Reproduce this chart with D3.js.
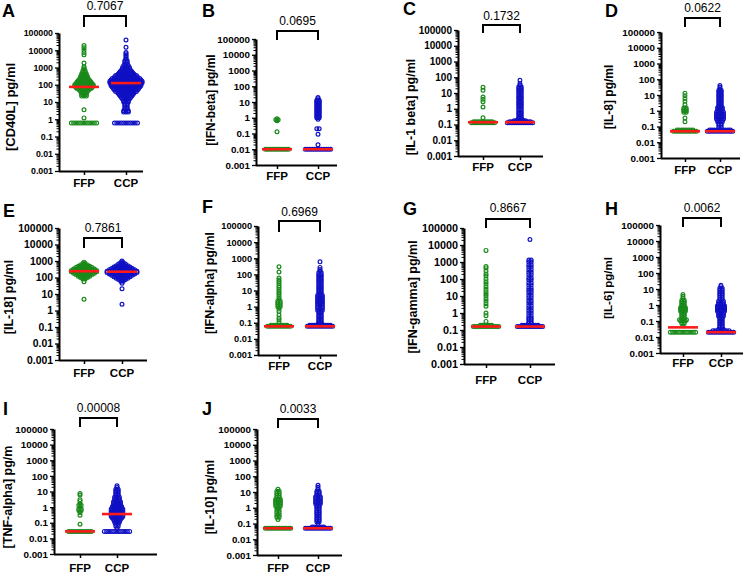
<!DOCTYPE html>
<html><head><meta charset="utf-8">
<script src="https://cdn.jsdelivr.net/npm/d3@7"></script>
<style>
body{margin:0;background:#fff}
svg{display:block}
text{font-family:"Liberation Sans",Arial,sans-serif}
</style>
</head><body>
<svg id="chart" width="747" height="573"></svg>
<script>
const categories = ["FFP", "CCP"];
const panelLetters = ["A","B","C","D","E","F","G","H","I","J"];
const yTitles = ["[CD40L] pg/ml","[IFN-beta] pg/ml","[IL-1 beta] pg/ml","[IL-8] pg/ml","[IL-18] pg/ml",
  "[IFN-alpha] pg/ml","[IFN-gamma] pg/ml","[IL-6] pg/ml","[TNF-alpha] pg/m","[IL-10] pg/ml"];
const pValues = ["0.7067","0.0695","0.1732","0.0622","0.7861","0.6969","0.8667","0.0062","0.00008","0.0033"];
const tickValues = [100000,10000,1000,100,10,1,0.1,0.01,0.001];
const tickLabels = ["100000","10000","1000","100","10","1","0.1","0.01","0.001"];
const mediansFFP = [75, 0.01, 0.14, 0.05, 240, 0.06, 0.16, 0.04, 0.028, 0.05];
const mediansCCP = [125, 0.01, 0.14, 0.05, 225, 0.06, 0.16, 0.02, 0.36, 0.05];

// [value, number of samples at that value]
const cd40lFFP = [[0.6,12],[1.2,1],[3.5,1],[22,3],[27,3],[33,3],[40,4],[50,5],[60,7],[70,8],[85,9],[100,9],[120,8],[145,7],[175,6],[210,5],[250,4],[300,4],[360,3],[430,3],[520,2],[650,2],[800,1],[950,1],[1100,1],[1800,1],[5500,1],[7500,1],[10000,1],[14000,1],[19000,1]];
const cd40lCCP = [[0.6,11],[2.6,3],[3.1,3],[4,2],[5,2],[6.5,2],[8,2],[10,3],[12,3],[15,4],[18,5],[22,6],[27,7],[33,8],[40,10],[50,11],[60,12],[75,13],[90,14],[110,14],[130,15],[160,15],[190,14],[230,13],[280,11],[340,10],[400,8],[480,7],[580,6],[700,5],[850,4],[1000,4],[1300,3],[1600,2],[2000,2],[2500,2],[3000,1],[3600,1],[4300,1],[5200,1],[6300,1],[7500,1],[15000,1],[39000,1]];
const ifnbFFP = [[0.01,11],[0.13,1],[0.65,1],[0.75,2],[0.85,1]];
const ifnbCCP = [[0.01,12],[0.019,1],[0.09,1],[0.2,2],[0.8,1],[1,2],[1.2,2],[1.5,2],[1.8,2],[2.2,2],[2.7,2],[3.3,2],[4,2],[5,2],[6,2],[7.5,2],[9,2],[11,2],[13,2],[16,1],[19,1]];
const il1bFFP = [[0.13,11],[0.15,9],[0.27,1],[1.3,1],[2.8,1],[4,1],[5.5,1],[15,1],[23,1]];
const il1bCCP = [[0.13,12],[0.15,10],[0.17,6],[0.2,3],[0.25,2],[0.3,2],[0.4,2],[0.5,2],[0.6,2],[0.8,2],[1,2],[1.3,2],[1.6,2],[2,2],[2.5,2],[3,2],[4,2],[5,2],[6,2],[8,2],[10,2],[13,2],[16,2],[20,2],[25,2],[32,1],[40,1],[65,1]];
const il8FFP = [[0.05,11],[0.06,8],[0.2,1],[0.35,1],[0.8,2],[1,2],[1.2,2],[1.5,2],[2.5,1],[4,1],[6,1],[9,1],[13,1]];
const il8CCP = [[0.05,12],[0.06,10],[0.09,2],[0.12,2],[0.15,2],[0.2,3],[0.25,3],[0.3,4],[0.4,4],[0.5,4],[0.6,4],[0.8,4],[1,3],[1.3,3],[1.6,3],[2,2],[2.5,2],[3.2,2],[4,2],[5,2],[6.5,2],[8,2],[10,2],[13,2],[16,2],[20,2],[25,1],[32,1],[40,1]];
const il18FFP = [[4.8,1],[55,1],[80,2],[100,4],[120,6],[150,8],[180,10],[220,12],[270,12],[330,10],[400,8],[480,6],[580,4],[700,2],[850,1]];
const il18CCP = [[2.4,1],[21,1],[45,1],[60,2],[75,4],[90,6],[110,8],[135,10],[165,12],[200,14],[240,14],[290,12],[350,10],[430,8],[520,6],[650,4],[800,2],[1000,1]];
const ifnaFFP = [[0.06,11],[0.07,8],[0.1,1],[0.15,1],[0.2,1],[0.3,1],[0.5,1],[0.7,1],[1,2],[1.3,2],[1.7,2],[2.2,2],[3,1],[4,1],[5.5,1],[7,1],[9,1],[12,1],[16,1],[20,1],[27,1],[35,1],[45,1],[60,1],[140,1],[300,1]];
const ifnaCCP = [[0.06,12],[0.07,10],[0.08,3],[0.1,2],[0.13,2],[0.16,2],[0.2,2],[0.25,2],[0.3,2],[0.4,2],[0.5,2],[0.6,3],[0.8,3],[1,3],[1.3,3],[1.6,3],[2,3],[2.5,3],[3.2,3],[4,3],[5,3],[6.3,2],[8,2],[10,2],[13,2],[16,2],[20,2],[25,2],[32,2],[40,2],[50,2],[63,2],[80,2],[100,2],[130,2],[160,1],[200,1],[270,1],[600,1]];
const ifngFFP = [[0.16,12],[0.19,6],[0.32,1],[0.7,1],[1,1],[2.5,1],[3.5,1],[5,1],[7,1],[10,1],[13,1],[18,1],[25,1],[35,1],[50,1],[70,1],[100,1],[150,1],[200,1],[300,1],[450,1],[550,1],[4800,1]];
const ifngCCP = [[0.16,12],[0.19,8],[0.25,2],[0.3,2],[0.4,2],[0.5,2],[0.7,2],[1,2],[1.4,2],[2,2],[2.8,2],[4,2],[5.5,2],[8,2],[11,2],[16,2],[22,2],[30,2],[45,2],[60,2],[90,2],[120,2],[180,2],[250,2],[350,2],[500,2],[700,2],[1000,2],[1300,2],[21000,1]];
const il6FFP = [[0.02,12],[0.05,1],[0.07,2],[0.1,3],[0.12,4],[0.15,2],[0.2,2],[0.25,2],[0.3,2],[0.4,3],[0.5,3],[0.6,3],[0.7,3],[0.85,2],[1,2],[1.3,2],[1.6,2],[2,2],[2.7,1],[3.5,1],[4.5,1]];
const il6CCP = [[0.02,12],[0.025,8],[0.03,3],[0.04,2],[0.05,2],[0.065,2],[0.08,2],[0.1,2],[0.13,2],[0.16,2],[0.2,3],[0.25,3],[0.3,3],[0.4,4],[0.5,4],[0.6,4],[0.75,4],[0.9,4],[1.1,3],[1.4,3],[1.8,3],[2.3,2],[3,2],[4,2],[5,2],[6.5,2],[8.5,2],[11,2],[14,1],[17,1]];
const tnfaFFP = [[0.028,11],[0.08,1],[0.3,1],[0.45,1],[0.6,2],[0.8,2],[1,1],[1.3,2],[1.7,1],[2.5,1],[3,1],[6,1],[7.5,1]];
const tnfaCCP = [[0.028,12],[0.045,1],[0.06,2],[0.08,2],[0.1,3],[0.13,3],[0.16,4],[0.2,5],[0.25,6],[0.3,6],[0.4,6],[0.5,6],[0.6,6],[0.75,6],[0.9,5],[1.1,5],[1.4,4],[1.8,4],[2.2,4],[2.8,3],[3.5,3],[4.5,3],[5.5,2],[7,2],[9,2],[11,2],[14,2],[18,1],[23,1]];
const il10FFP = [[0.05,12],[0.18,1],[0.25,2],[0.35,2],[0.5,2],[0.7,2],[1,2],[1.3,3],[1.7,3],[2.2,3],[2.8,3],[3.5,3],[4.5,2],[6,2],[8,2],[11,2],[15,1]];
const il10CCP = [[0.05,12],[0.06,6],[0.1,1],[0.13,2],[0.17,2],[0.22,2],[0.3,2],[0.4,2],[0.5,2],[0.65,2],[0.85,2],[1.1,2],[1.4,2],[1.8,3],[2.3,3],[3,3],[4,3],[5,3],[6.5,2],[8.5,2],[11,2],[15,1],[20,1],[27,1]];

const seriesFFP = [cd40lFFP, ifnbFFP, il1bFFP, il8FFP, il18FFP, ifnaFFP, ifngFFP, il6FFP, tnfaFFP, il10FFP];
const seriesCCP = [cd40lCCP, ifnbCCP, il1bCCP, il8CCP, il18CCP, ifnaCCP, ifngCCP, il6CCP, tnfaCCP, il10CCP];
const groupColors = ["#1a8a1a", "#1010c4"];

// panel geometry (pixels)
const layout = [
 {ax:59, top:33, bot:171, x1:84, x2:126, xr:143, brT:16, brB:27, pB:10, labB:187, letX:2, letB:17, ytX:10, ytY:107, ytF:13, tfs:8.8},
 {ax:256, top:39, bot:165, x1:277, x2:318, xr:337, brT:31, brB:40, pB:25, labB:180, letX:202, letB:17, ytX:211, ytY:100, ytF:12, tfs:9.8},
 {ax:458, top:30, bot:156, x1:483, x2:520, xr:543, brT:25, brB:33, pB:20, labB:171, letX:403, letB:15, ytX:411, ytY:107, ytF:12.5, tfs:10},
 {ax:661, top:32, bot:158, x1:685, x2:720, xr:740, brT:18, brB:27, pB:12, labB:174, letX:605, letB:17, ytX:609, ytY:97, ytF:12, tfs:9.8},
 {ax:59, top:228, bot:360, x1:84, x2:122, xr:147, brT:238, brB:248, pB:232, labB:377, letX:3, letB:217, ytX:9, ytY:297, ytF:12.5, tfs:10.4},
 {ax:258, top:226, bot:355, x1:279, x2:320, xr:337, brT:221, brB:232, pB:216, labB:370, letX:202, letB:213, ytX:210, ytY:283, ytF:12.5, tfs:9.2},
 {ax:464, top:228, bot:364, x1:486, x2:530, xr:555, brT:219, brB:228, pB:212, labB:384, letX:403, letB:215, ytX:413, ytY:297, ytF:12.5, tfs:10.8},
 {ax:660, top:225, bot:353, x1:683, x2:721, xr:743, brT:218, brB:227, pB:212, labB:367, letX:605, letB:215, ytX:608, ytY:288, ytF:11.5, tfs:9.8},
 {ax:54, top:429, bot:554, x1:80, x2:117, xr:157, brT:418, brB:427, pB:412, labB:572, letX:3, letB:415, ytX:8, ytY:497, ytF:12.5, tfs:9.8},
 {ax:257, top:429, bot:555, x1:278, x2:318, xr:342, brT:419, brB:428, pB:413, labB:572, letX:202, letB:415, ytX:210, ytY:497, ytF:12.5, tfs:9.8}
];

const svg = d3.select("#chart");
const minorTicks = [];
for (let e = -3; e < 5; e++) for (let m = 2; m <= 9; m++) minorTicks.push(m * Math.pow(10, e));

layout.forEach((L, k) => {
  const g = svg.append("g");
  const y = d3.scaleLog().domain([0.001, 100000]).range([L.bot, L.top]);
  const x = d3.scalePoint().domain(categories).range([L.x1, L.x2]);

  // points
  [seriesFFP[k], seriesCCP[k]].forEach((ser, gi) => {
    const cx = x(categories[gi]);
    const pts = [];
    ser.forEach(([v, n]) => {
      for (let i = 0; i < n; i++) pts.push({x: cx + (i - (n - 1) / 2) * 2.3, y: y(v)});
    });
    g.append("g").selectAll("circle").data(pts).join("circle")
      .attr("cx", d => d.x).attr("cy", d => d.y).attr("r", 1.9)
      .attr("fill", "none").attr("stroke", groupColors[gi]).attr("stroke-width", 1.2);
  });

  // medians
  [mediansFFP[k], mediansCCP[k]].forEach((m, gi) => {
    const cx = x(categories[gi]);
    g.append("line").attr("x1", cx - 15).attr("x2", cx + 15)
      .attr("y1", y(m)).attr("y2", y(m))
      .attr("stroke", "#ff1a1a").attr("stroke-width", 2.6);
  });

  // y axis major + minor
  const ya = g.append("g").attr("transform", `translate(${L.ax},0)`)
    .call(d3.axisLeft(y).tickValues(tickValues).tickFormat((d, i) => tickLabels[i])
      .tickSize(4).tickSizeOuter(0).tickPadding(2));
  ya.select(".domain").attr("stroke-width", 2);
  ya.selectAll(".tick line").attr("stroke-width", 1.3);
  ya.selectAll(".tick text").attr("font-size", L.tfs).attr("font-weight", "bold")
    .attr("font-family", '"Liberation Sans",Arial,sans-serif').attr("fill", "#000");
  const ym = g.append("g").attr("transform", `translate(${L.ax},0)`)
    .call(d3.axisLeft(y).tickValues(minorTicks).tickFormat("").tickSize(2.5).tickSizeOuter(0));
  ym.select(".domain").remove();
  ym.selectAll(".tick line").attr("stroke-width", 1);

  // x axis
  const xa = g.append("g").attr("transform", `translate(0,${L.bot})`)
    .call(d3.axisBottom(x).tickSize(4).tickSizeOuter(0).tickFormat(""));
  xa.select(".domain").attr("d", `M${L.ax},0.5H${L.xr}`).attr("stroke-width", 2);
  xa.selectAll(".tick line").attr("stroke-width", 1.5);
  categories.forEach(c => {
    g.append("text").attr("x", x(c)).attr("y", L.labB).attr("text-anchor", "middle")
      .attr("font-size", 11.5).attr("font-weight", "bold").text(c);
  });

  // bracket + p value
  g.append("path").attr("d", `M${L.x1},${L.brB}V${L.brT}H${L.x2}V${L.brB}`)
    .attr("fill", "none").attr("stroke", "#000").attr("stroke-width", 2);
  g.append("text").attr("x", (L.x1 + L.x2) / 2).attr("y", L.pB).attr("text-anchor", "middle")
    .attr("font-size", 12).text(pValues[k]);

  // panel letter
  g.append("text").attr("x", L.letX).attr("y", L.letB).attr("font-size", 18)
    .attr("font-weight", "bold").text(panelLetters[k]);

  // y title
  g.append("text").attr("transform", `translate(${L.ytX},${L.ytY}) rotate(-90)`)
    .attr("text-anchor", "middle").attr("dominant-baseline", "central")
    .attr("font-size", L.ytF).attr("font-weight", "bold").text(yTitles[k]);
});
</script>
</body></html>
